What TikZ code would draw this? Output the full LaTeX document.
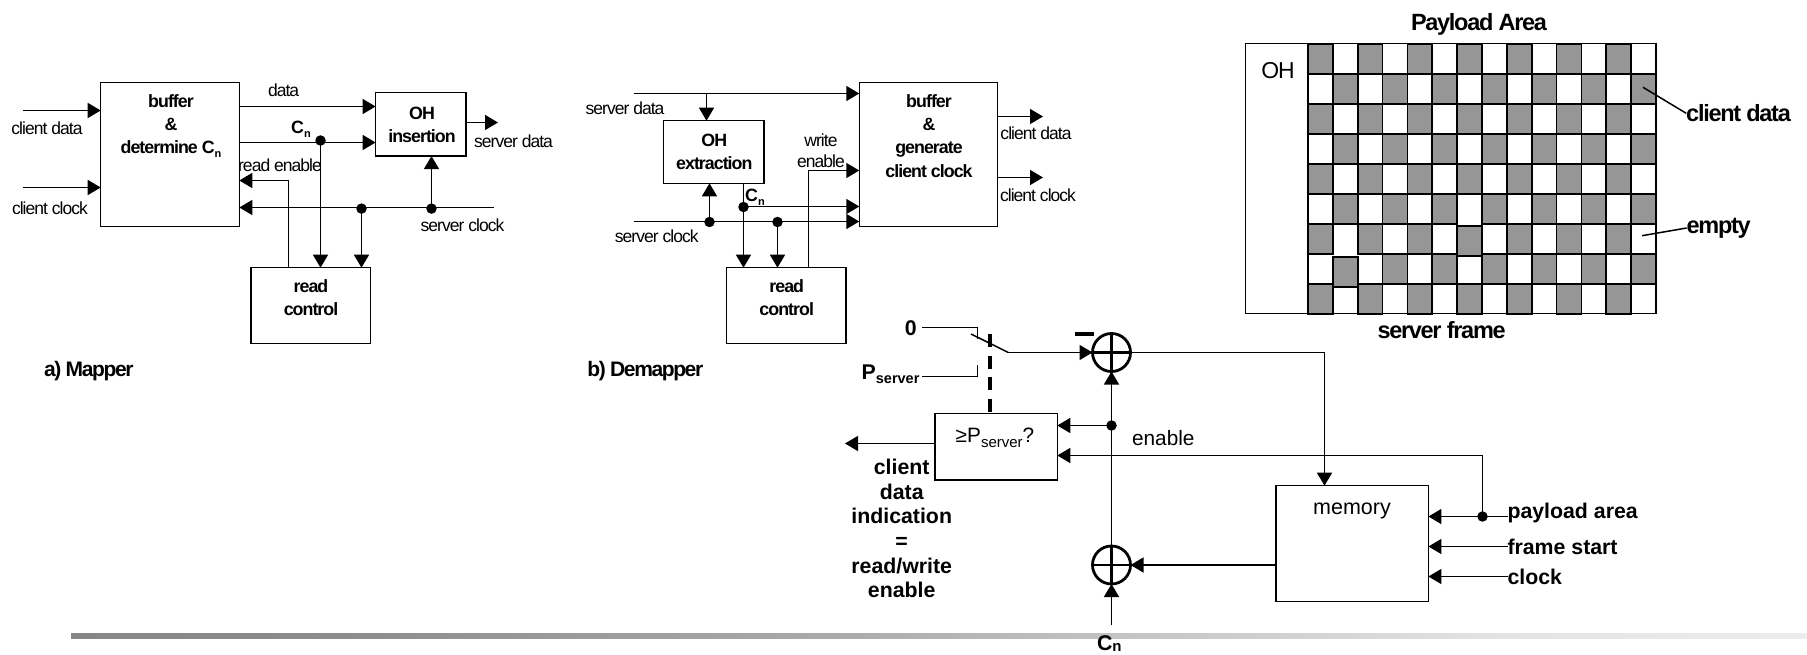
\documentclass[tikz,border=0pt]{standalone}
\usepackage{fontspec}
\setmainfont{Liberation Sans}
\newfontfamily\tightf{Liberation Sans}[LetterSpace=-5.5]
\newfontfamily\capf{Liberation Sans}[LetterSpace=-6.6]
\usetikzlibrary{arrows.meta}
\definecolor{cellgray}{HTML}{969696}
\definecolor{ba}{HTML}{868686}
\definecolor{bb}{HTML}{8C8C8C}
\definecolor{bc}{HTML}{AAAAAA}
\definecolor{bd}{HTML}{CACACA}
\definecolor{be}{HTML}{E3E3E3}
\definecolor{bf}{HTML}{ECECEC}
\pgfdeclarehorizontalshading{barsh}{100bp}{color(0bp)=(ba); color(25bp)=(ba); color(32.75bp)=(bb); color(46.85bp)=(bc); color(57.5bp)=(bd); color(66.15bp)=(be); color(75bp)=(bf); color(100bp)=(bf)}
\newcommand{\subx}[2]{\raisebox{-0.22em}{\fontsize{#1}{#1}\selectfont #2}}
\tikzset{
  boxn/.style={draw,line width=1.5,inner sep=0,outer sep=0},
  lin/.style={line width=1.5},
  arr/.style={line width=1.5,-{Triangle[length=13,width=15]}},
  dotn/.style={circle,fill=black,inner sep=0,outer sep=0,minimum size=10.5},
  adder/.style={circle,draw,line width=2.8,inner sep=0,outer sep=0,minimum size=38},
  tl/.style={inner sep=0,outer sep=0,align=center,font={\tightf\fontsize{17.5}{21}\selectfont}},
  tb/.style={inner sep=0,outer sep=0,align=center,font={\tightf\bfseries\fontsize{17.8}{23.2}\selectfont}},
  tbig/.style={inner sep=0,outer sep=0,align=center,font={\tightf\bfseries\fontsize{23.5}{26}\selectfont}},
  tcap/.style={inner sep=0,outer sep=0,anchor=west,font={\capf\bfseries\fontsize{21}{25}\selectfont}},
  lb/.style={inner sep=0,outer sep=0,align=center,font={\bfseries\fontsize{21.3}{24.7}\selectfont}},
  lr/.style={inner sep=0,outer sep=0,align=center,font={\fontsize{20.8}{24}\selectfont}},
}
\begin{document}
\begin{tikzpicture}[x=1pt,y=-1pt]
\useasboundingbox (0,0) rectangle (1807,655);

% ---- footer bar
\shade[shading=barsh] (71,633) rectangle (1807,638);

% ---- a) Mapper
\node[boxn,minimum width=138.6,minimum height=144] (mbuf) at (170,154.7) {};
\node[boxn,minimum width=90.4,minimum height=63.4] (mins) at (420.8,124.35) {};
\node[boxn,minimum width=119.5,minimum height=76] (mrc) at (310.75,305.7) {};
\node[tb] (mbuft) at (171,126) {buffer\\\&\\determine C\subx{11}{n}};
\node[tb] (minst) at (422,124.5) {OH\\insertion};
\node[tb] (mrct) at (311,297.5) {read\\control};
\coordinate (mcd) at (22.5,110.5);
\coordinate (mck) at (22.5,187.5);
\coordinate (mdr) at (239.3,106.5);
\coordinate (mcr) at (239.3,142.5);
\coordinate (mre) at (288.5,180.5);
\coordinate (msc) at (494,207.5);
\coordinate (msd) at (498,122.5);
\node[dotn] (mcnd) at (320.5,140.5) {};
\node[dotn] (md1) at (361.5,208.6) {};
\node[dotn] (md2) at (431.5,208.6) {};
\draw[arr] (mcd) -- (mbuf.west |- mcd);
\draw[arr] (mck) -- (mbuf.west |- mck);
\draw[arr] (mdr) -- (mins.west |- mdr);
\draw[arr] (mcr) -- (mins.west |- mcr);
\draw[arr] (mcnd.center) -- (mcnd |- mrc.north);
\draw[arr] (mre |- mrc.north) -- (mre) -- (mbuf.east |- mre);
\draw[arr] (msc) -- (mbuf.east |- msc);
\draw[arr] (md1.center) -- (md1 |- mrc.north);
\draw[arr] (md2.center) -- (md2 |- mins.south);
\draw[arr] (mins.east |- msd) -- (msd);
\node[tl] (l1) at (47,128) {client data};
\node[tl] (l2) at (50,208) {client clock};
\node[tl] (l3) at (283.6,90) {data};
\node[tb] (l4) at (301,129) {C\subx{11}{n}};
\node[tl] (l5) at (280,165.3) {read enable};
\node[tl] (l6) at (513.5,141) {server data};
\node[tl] (l7) at (462.5,225.7) {server clock};
\node[tcap] (l8) at (44,371) {a) Mapper};

% ---- b) Demapper
\node[boxn,minimum width=138.4,minimum height=144] (dbuf) at (928.5,154.7) {};
\node[boxn,minimum width=100.7,minimum height=62.6] (dext) at (713.65,152) {};
\node[boxn,minimum width=119.3,minimum height=76] (drc) at (786.35,305.7) {};
\node[tb] (dbuft) at (929,136) {buffer\\\&\\generate\\client clock};
\node[tb] (dextt) at (714.3,151.5) {OH\\extraction};
\node[tb] (drct) at (786.7,297.5) {read\\control};
\coordinate (dsd) at (634,93.5);
\coordinate (dsk) at (634,221.5);
\coordinate (dbr) at (706.5,93.5);
\coordinate (dcn) at (743.5,206.5);
\coordinate (dwe) at (808.5,170.5);
\coordinate (dcd) at (1043,116.5);
\coordinate (dcc) at (1043,177.5);
\node[dotn] (dd1) at (709.5,222) {};
\node[dotn] (dd2) at (777.5,222) {};
\node[dotn] (dd3) at (743.5,207) {};
\draw[arr] (dsd) -- (dbuf.west |- dsd);
\draw[arr] (dbr) -- (dbr |- dext.north);
\draw[arr] (dsk) -- (dbuf.west |- dsk);
\draw[arr] (dd1.center) -- (dd1 |- dext.south);
\draw[arr] (dd2.center) -- (dd2 |- drc.north);
\draw[arr] (dd3 |- dext.south) -- (dd3 |- drc.north);
\draw[arr] (dcn) -- (dbuf.west |- dcn);
\draw[arr] (dwe |- drc.north) -- (dwe) -- (dbuf.west |- dwe);
\draw[arr] (dbuf.east |- dcd) -- (dcd);
\draw[arr] (dbuf.east |- dcc) -- (dcc);
\node[tl] (l9) at (625,108) {server data};
\node[tl] (l10) at (656.7,236) {server clock};
\node[tb] (l11) at (755,197.7) {C\subx{11}{n}};
\node[tl] (l12) at (821,150.5) {write\\enable};
\node[tl] (l13) at (1036,133.5) {client data};
\node[tl] (l14) at (1038,195) {client clock};
\node[tcap] (l15) at (587.3,371) {b) Demapper};

% ---- server frame
\fill[white] (1245.5,43.7) rectangle (1656,313.7);
\foreach \r in {0,...,8}{\foreach \c in {0,...,13}{%
  \def\sh{0}%
  \ifnum\r=7 \ifnum\c=1 \def\sh{3}\fi\fi
  \ifnum\r=6 \ifnum\c=6 \def\sh{2}\fi\fi
  \ifodd\numexpr\r+\c\relax\else
    \draw[line width=1.7,fill=cellgray] ({1308+24.86*\c},{43.7+30*\r+\sh}) rectangle ++(24.86,30);
  \fi
}}
\draw[line width=1.5] (1245.5,43.7) rectangle (1656,313.7);
\draw[line width=2] (1308,43.7) -- (1308,313.7);
\node[inner sep=0,font={\tightf\fontsize{23}{26}\selectfont}] (foh) at (1278,70.7) {OH};
\node[tbig] (fpa) at (1479,24) {Payload Area};
\node[tbig] (fsf) at (1441.6,330) {server frame};
\node[tbig] (fcd) at (1738.5,113.3) {client data};
\node[tbig] (fem) at (1718.7,228) {empty};
\coordinate (fcp) at (1643,87.3);
\coordinate (fep) at (1642,235.7);
\draw[lin] (fcp) -- (fcd.west);
\draw[lin] (fep) -- (fem.west);

% ---- lower circuit
\node[adder] (s1) at (1111.5,352.5) {};
\node[adder] (s2) at (1111.5,565) {};
\draw[line width=2.8] (s1.north) -- (s1.south) (s1.west) -- (s1.east);
\draw[line width=2.8] (s2.north) -- (s2.south) (s2.west) -- (s2.east);
\node[boxn,minimum width=122.3,minimum height=66.7] (cmp) at (996.15,446.65) {};
\node[boxn,minimum width=152.5,minimum height=115.6] (mem) at (1352.15,543.5) {};
\node[lr] (cmpt) at (995,438) {≥P\subx{15}{server}?};
\node[inner sep=0,font={\fontsize{21.5}{24}\selectfont}] (memt) at (1352,511) {memory};
\node[dotn] (en) at (1111.5,425.5) {};
\node[dotn] (pa) at (1482.5,516.5) {};
\node[lb] (zero) at (910.7,328.3) {0};
\node[lb,anchor=base west] (pser) at (861.7,379.3) {P\subx{14.5}{server}};
\coordinate (sw0a) at (922.3,327.5);
\coordinate (sw0b) at (977.5,327.5);
\coordinate (sw0c) at (977.5,339.3);
\coordinate (swpa) at (922.3,376.5);
\coordinate (swpb) at (977.5,376.5);
\coordinate (swpc) at (977.5,365);
\coordinate (arm0) at (971,334);
\coordinate (arm1) at (1008.3,352.5);
\coordinate (dash0) at (990,334);
\coordinate (out) at (845,443.5);
\coordinate (enr) at (1482.5,455.5);
\coordinate (pal) at (1508,516.5);
\coordinate (fsl) at (1508,546.5);
\coordinate (ckl) at (1508,576.5);
\coordinate (cnb) at (1111.5,625);
\coordinate (memtop) at (1324.5,352.5);
\coordinate (ms2) at (1275.9,565);
\draw[lin] (sw0a) -- (sw0b) -- (sw0c);
\draw[lin] (swpa) -- (swpb) -- (swpc);
\draw[lin] (arm0) -- (arm1);
\draw[arr] (arm1) -- (s1.west);
\draw[line width=4,dash pattern=on 13 off 8.7] (dash0) -- (dash0 |- cmp.north);
\draw[line width=4] (1075,333.7) -- (1094,333.7);
\draw[arr] (s2.north) -- (s1.south);
\draw[arr] (en.center) -- (cmp.east |- en);
\draw[arr] (enr) -- (cmp.east |- enr);
\draw[lin] (pa.center) -- (enr);
\draw[arr] (s1.east) -- (memtop) -- (memtop |- mem.north);
\draw[arr] (ms2) -- (s2.east);
\draw[arr] (cnb) -- (s2.south);
\draw[arr] (cmp.west |- out) -- (out);
\draw[arr] (pal) -- (mem.east |- pal);
\draw[arr] (fsl) -- (mem.east |- fsl);
\draw[arr] (ckl) -- (mem.east |- ckl);
\node[lb] (cdi) at (901.7,528.5) {client\\data\\indication\\=\\read/write\\enable};
\node[lr] (ent) at (1163.3,438.3) {enable};
\node[lb,anchor=west] (tpa) at (1507.5,513) {payload area};
\node[lb,anchor=west] (tfs) at (1507.5,546.7) {frame start};
\node[lb,anchor=west] (tck) at (1507.5,576.7) {clock};
\node[lb,anchor=base west] (tcn) at (1097,650) {C\raisebox{-0.08em}{\fontsize{15}{15}\selectfont n}};
\end{tikzpicture}
\end{document}
